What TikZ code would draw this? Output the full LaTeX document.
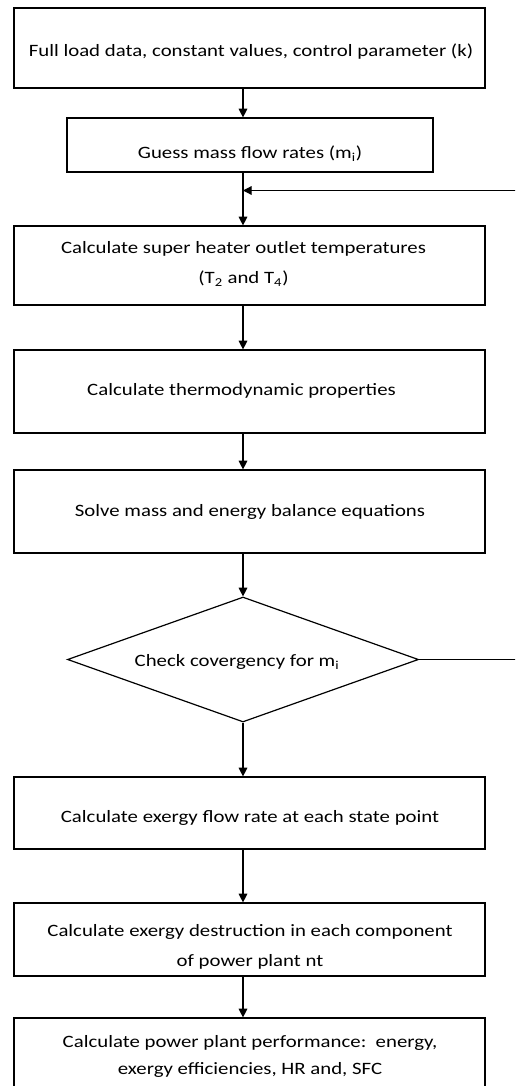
\documentclass[tikz,border=0pt]{standalone}
\usepackage{fontspec}
\setmainfont[FakeStretch=1.2]{Carlito}
\usetikzlibrary{shapes.geometric,arrows.meta}
\tikzset{
  every picture/.style={x=0.75pt,y=-0.75pt},
  box/.style={draw,line width=0.9pt,inner sep=0pt,minimum width=353.25pt},
  txt/.style={inner sep=0pt,align=center,font=\fontsize{13}{22.5}\selectfont},
  arr/.style={line width=0.9pt,-{Triangle[width=6.5pt,length=6.5pt]}}
}
\begin{document}
\begin{tikzpicture}
\useasboundingbox (0,0) rectangle (515,1086);
\clip (0,0) rectangle (515,1086);
\fill[white] (0,0) rectangle (515,1086);
\coordinate (col) at (243,0);
% boxes
\node[box,minimum height=60pt] (b1) at (249.5,48) {};
\node[txt] (t1) at (251,52) {Full load data, constant values, control parameter (k)};
\node[box,minimum width=274.5pt,minimum height=40.5pt] (b2) at (250,145) {};
\node[txt] (t2) at (250,154) {Guess mass flow rates (m\textsubscript{i})};
\node[box,minimum height=59.25pt] (b3) at (249.5,265.5) {};
\node[txt] (t3) at (243.5,264) {Calculate super heater outlet temperatures\\(T\textsubscript{2} and T\textsubscript{4})};
\node[box,minimum height=62.25pt] (b4) at (249.5,391.5) {};
\node[txt] (t4) at (241.5,391) {Calculate thermodynamic properties};
\node[box,minimum height=62.25pt] (b5) at (249.5,511.5) {};
\node[txt] (t5) at (250,512) {Solve mass and energy balance equations};
\node[draw,line width=0.9pt,diamond,inner sep=0pt,minimum width=263.25pt,minimum height=93.75pt] (d) at (243,659.5) {};
\node[txt] (td) at (237,662) {Check covergency for m\textsubscript{i}};
\node[box,minimum height=54pt] (b6) at (249.5,813) {};
\node[txt] (t6) at (250,818) {Calculate exergy flow rate at each state point};
\node[box,minimum height=54.75pt] (b7) at (249.5,939.5) {};
\node[txt] (t7) at (250,947) {Calculate exergy destruction in each component\\of power plant nt};
\node[box,minimum height=69pt] (b8) at (249.5,1064) {};
\node[txt,font=\fontsize{13}{20.25}\selectfont] (t8) at (250,1056.5) {Calculate power plant performance:\ \ energy,\\exergy efficiencies, HR and, SFC};
% connectors
\coordinate (jn) at (243,190.5);
\coordinate (fbA) at (540,659.5);
\coordinate (fbB) at (540,190.5);
\draw[arr] (b1.south -| col) -- (b2.north -| col);
\draw[arr] (b2.south -| col) -- (b3.north -| col);
\draw[arr] (b3.south -| col) -- (b4.north -| col);
\draw[arr] (b4.south -| col) -- (b5.north -| col);
\draw[arr] (b5.south -| col) -- (d.north);
\draw[arr] (d.south) -- (b6.north -| col);
\draw[arr] (b6.south -| col) -- (b7.north -| col);
\draw[arr] (b7.south -| col) -- (b8.north -| col);
\draw[arr] (d.east) -- (fbA) -- (fbB) -- (jn);
\end{tikzpicture}
\end{document}
